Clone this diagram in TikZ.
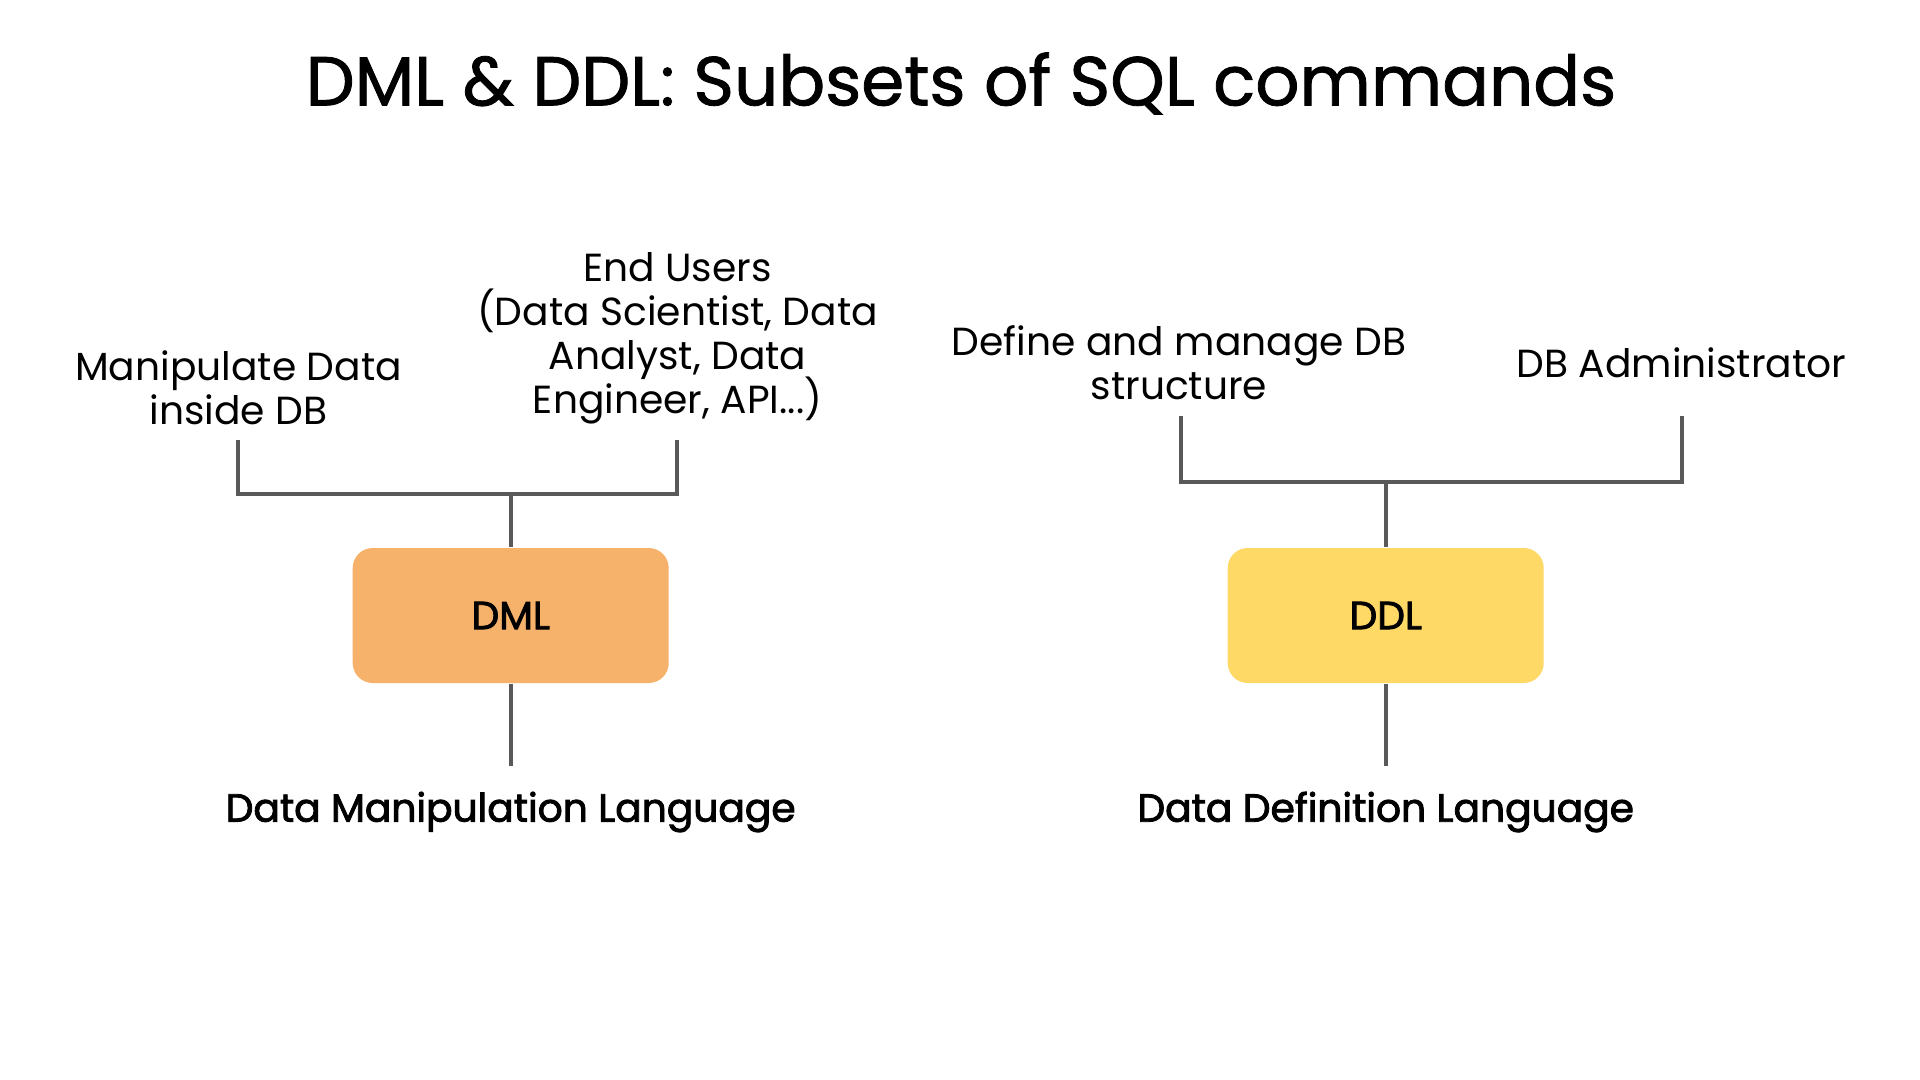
\documentclass[tikz,border=0pt]{standalone}
\usepackage{fontspec}
\setmainfont{Poppins}
\newfontfamily\semifont{Poppins}[FakeBold=2.2]
\newfontfamily\midfont{Poppins}[FakeBold=1.2]
\newcommand{\tightlines}{\lineskiplimit=-6pt\relax}
\usetikzlibrary{positioning}

\definecolor{dmlorange}{HTML}{F6B26B}
\definecolor{ddlyellow}{HTML}{FFD966}
\definecolor{linegray}{HTML}{595959}

\begin{document}
\begin{tikzpicture}[
  conn/.style={draw=linegray,line width=1.05pt},
  lang/.style={rectangle,rounded corners=0.2cm,minimum width=3.16cm,minimum height=1.35cm,
    font=\fontsize{11.15}{13}\semifont},
  txt/.style={align=center,font=\fontsize{11.15}{12.5}\selectfont\tightlines},
  langname/.style={font=\fontsize{11.15}{13}\semifont}]

\fill[white] (0,0) rectangle (19.2,-10.8);
\useasboundingbox (0,0) rectangle (19.2,-10.8);

\node (title) at (9.61,-0.835) {\fontsize{19.7}{23}\midfont DML \& DDL: Subsets of SQL commands};

% DML side
\node (manip) at (2.385,-3.88) [txt] {Manipulate Data\\inside DB};
\node (users) at (6.775,-3.38) [txt] {End Users\\(Data Scientist, Data\\Analyst, Data\\Engineer, API...)};
\coordinate (manipend) at (2.383,-4.40);
\coordinate (usersend) at (6.77,-4.40);
\coordinate (dmljoin) at (5.107,-4.94);

\node (dml) at (5.107,-6.155) [lang,fill=dmlorange] {DML};
\coordinate (dmlfoot) at (5.107,-7.66);
\node (dmlname) at (5.107,-8.12) [langname] {Data Manipulation Language};

\draw[conn] (manipend) -- (manipend |- dmljoin) -- (usersend |- dmljoin) -- (usersend);
\draw[conn] (dmljoin) -- (dml.north);
\draw[conn] (dml.south) -- (dmlfoot);

% DDL side
\node (define) at (11.79,-3.63) [txt] {Define and manage DB\\structure};
\node (admin) at (16.815,-3.63) [txt] {DB Administrator};
\coordinate (defineend) at (11.81,-4.16);
\coordinate (adminend) at (16.817,-4.16);
\coordinate (ddljoin) at (13.857,-4.82);

\node (ddl) at (13.857,-6.155) [lang,fill=ddlyellow] {DDL};
\coordinate (ddlfoot) at (13.857,-7.66);
\node (ddlname) at (13.857,-8.12) [langname] {Data Definition Language};

\draw[conn] (defineend) -- (defineend |- ddljoin) -- (adminend |- ddljoin) -- (adminend);
\draw[conn] (ddljoin) -- (ddl.north);
\draw[conn] (ddl.south) -- (ddlfoot);

\end{tikzpicture}
\end{document}
